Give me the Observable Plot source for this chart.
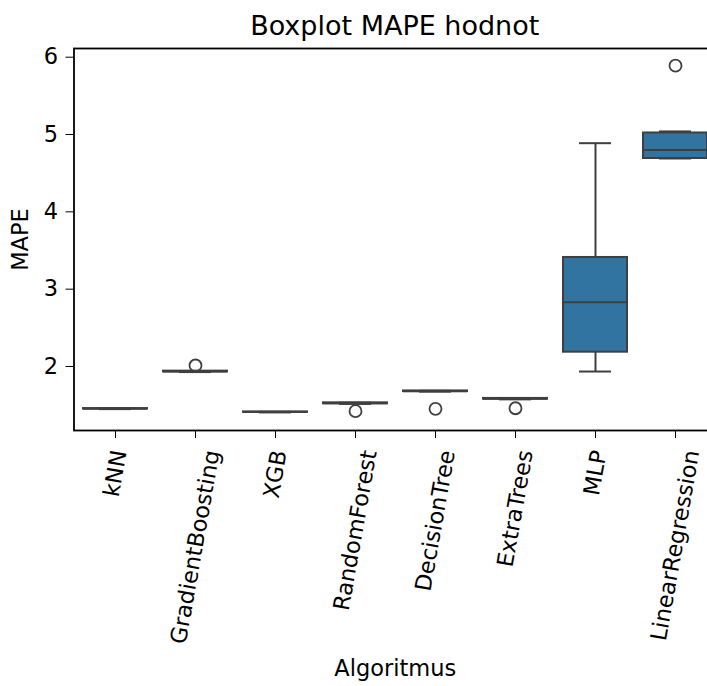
<!DOCTYPE html>
<html><head><meta charset="utf-8">
<script src="https://cdn.jsdelivr.net/npm/d3@7"></script>
<script src="https://cdn.jsdelivr.net/npm/@observablehq/plot@0.6"></script>
<style>
html,body{margin:0;padding:0;background:#fff;overflow:hidden;}
#title{box-sizing:border-box;height:47px;padding-top:12px;padding-left:73.5px;width:716px;text-align:center;font:27px/1 "DejaVu Sans";color:#000;white-space:nowrap;}
</style></head><body>
<div id="title">Boxplot MAPE hodnot</div>
<div id="chart"></div>
<script>
const algorithms = ["kNN","GradientBoosting","XGB","RandomForest","DecisionTree","ExtraTrees","MLP","LinearRegression"];
const whiskerLow  = [1.449, 1.928, 1.406, 1.516, 1.675, 1.575, 1.935, 4.690];
const q1          = [1.450, 1.930, 1.407, 1.518, 1.676, 1.577, 2.185, 4.690];
const median      = [1.453, 1.935, 1.410, 1.525, 1.680, 1.582, 2.830, 4.800];
const q3          = [1.456, 1.940, 1.413, 1.530, 1.684, 1.587, 3.410, 5.020];
const whiskerHigh = [1.457, 1.941, 1.414, 1.532, 1.685, 1.589, 4.888, 5.040];
const outlierAlgorithms = ["GradientBoosting","RandomForest","DecisionTree","ExtraTrees","LinearRegression"];
const outlierValues = [2.013, 1.422, 1.453, 1.460, 5.890];
const yTicks = [2, 3, 4, 5, 6];

const boxes = algorithms.map((a, i) => ({algo: a, lo: whiskerLow[i], q1: q1[i], median: median[i], q3: q3[i], hi: whiskerHigh[i]}));
const outliers = outlierAlgorithms.map((a, i) => ({algo: a, value: outlierValues[i]}));

const line = "#3f3f3f", fill = "#3274a1";
const plot = Plot.plot({
  width: 716, height: 639,
  marginTop: 1, marginRight: 0, marginLeft: 73.5, marginBottom: 256,
  style: {fontFamily: "DejaVu Sans", fontSize: "22.5px", color: "#000", background: "#fff", maxWidth: "none", overflow: "visible"},
  x: {type: "band", domain: algorithms, paddingInner: 0.2, paddingOuter: 0.1},
  y: {domain: [1.1723, 6.1125]},
  marks: [
    Plot.ruleX(boxes, {x: "algo", y1: "lo", y2: "q1", stroke: line, strokeWidth: 2}),
    Plot.ruleX(boxes, {x: "algo", y1: "q3", y2: "hi", stroke: line, strokeWidth: 2}),
    Plot.tickY(boxes, {x: "algo", y: "lo", stroke: line, strokeWidth: 2, insetLeft: 16, insetRight: 16}),
    Plot.tickY(boxes, {x: "algo", y: "hi", stroke: line, strokeWidth: 2, insetLeft: 16, insetRight: 16}),
    Plot.barY(boxes, {x: "algo", y1: "q1", y2: "q3", fill: fill, stroke: line, strokeWidth: 2}),
    Plot.tickY(boxes, {x: "algo", y: "median", stroke: line, strokeWidth: 2}),
    Plot.dot(outliers, {x: "algo", y: "value", r: 6, stroke: line, strokeWidth: 1.8, fill: "none"}),
    Plot.frame({stroke: "#000", strokeWidth: 1.8}),
    Plot.axisY({ticks: yTicks, tickFormat: d => String(d), tickSize: 8, tickPadding: 8, label: "MAPE", labelAnchor: "center", labelOffset: 62, labelArrow: "none"}),
    Plot.axisX({tickRotate: -80, tickSize: 8, tickPadding: 12, label: "Algoritmus", labelAnchor: "center", labelOffset: 245, labelArrow: "none"})
  ]
});
document.getElementById("chart").append(plot);
d3.select(plot).selectAll('g[aria-label="x-axis tick label"] text').each(function () {
  const L = this.getComputedTextLength();
  const dx = L / 2 * Math.cos(80 * Math.PI / 180);
  const t = this.getAttribute("transform") || "";
  this.setAttribute("transform", `translate(${dx},0) ${t}`);
});
</script>
</body></html>
